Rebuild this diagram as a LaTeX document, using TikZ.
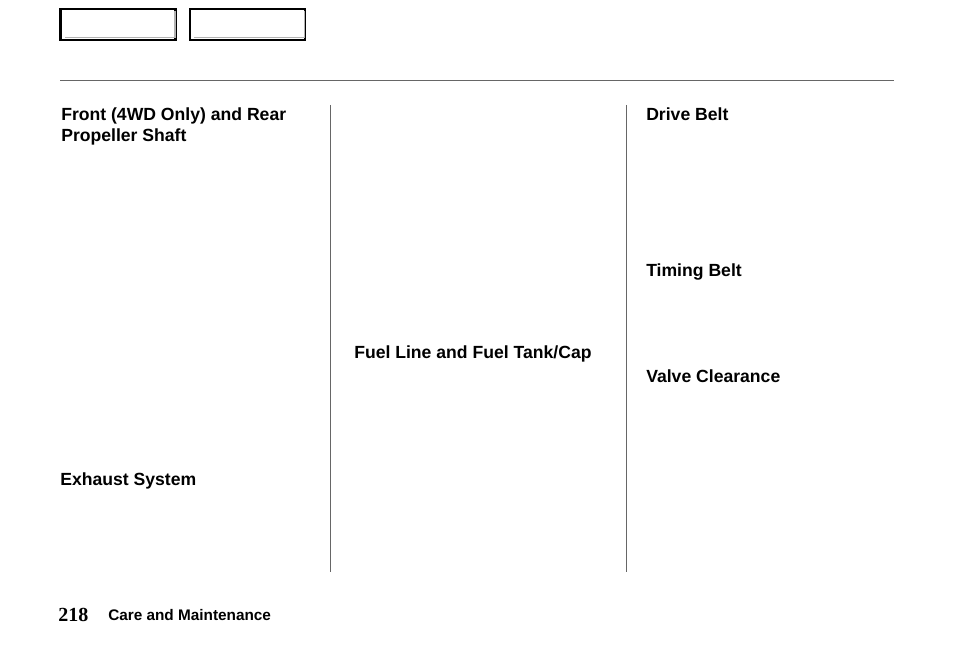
\documentclass[tikz,border=0pt]{standalone}
\usepackage{fontspec}
\setmainfont{Liberation Sans}
\newfontfamily\serifnum{Liberation Serif}
\begin{document}
\begin{tikzpicture}[x=0.75pt,y=-0.75pt,
  tabbox/.style={draw=black,line width=2.2pt,fill=white,minimum width=115*0.75pt,minimum height=31*0.75pt,inner sep=0pt},
  head/.style={anchor=north west,inner sep=0pt,font=\bfseries\fontsize{13.2}{15.8}\selectfont,align=left},
  rule/.style={draw=black!60,line width=0.6pt}]
\useasboundingbox (0,0) rectangle (954,656);
\node[tabbox] (t1) at (118,24.5) {};
\node[tabbox] (t2) at (247.5,24.5) {};
\draw[black!30,line width=1pt] (t1.north east)++(-2,3) -- ++(0,27) -- ++(-110,0);
\draw[black!30,line width=1pt] (t2.north east)++(-2,3) -- ++(0,27) -- ++(-110,0);
\draw[rule] (60,80) -- (894,80);
\draw[rule] (330,105) -- (330,572);
\draw[rule] (626,105) -- (626,572);
\node[head] (h1) at (61,107) {Front (4WD Only) and Rear\\Propeller Shaft};
\node[head] (h2) at (60,472) {Exhaust System};
\node[head] (h3) at (354,345) {Fuel Line and Fuel Tank/Cap};
\node[head] (h4) at (646,107) {Drive Belt};
\node[head] (h5) at (646,263) {Timing Belt};
\node[head] (h6) at (646,369) {Valve Clearance};
\node[anchor=base west,inner sep=0pt,font=\serifnum\bfseries\fontsize{15}{18}\selectfont] (pg) at (58,621) {218};
\node[anchor=base west,inner sep=0pt,font=\bfseries\fontsize{11.5}{14}\selectfont] (ft) at (108,620) {Care and Maintenance};
\end{tikzpicture}
\end{document}
